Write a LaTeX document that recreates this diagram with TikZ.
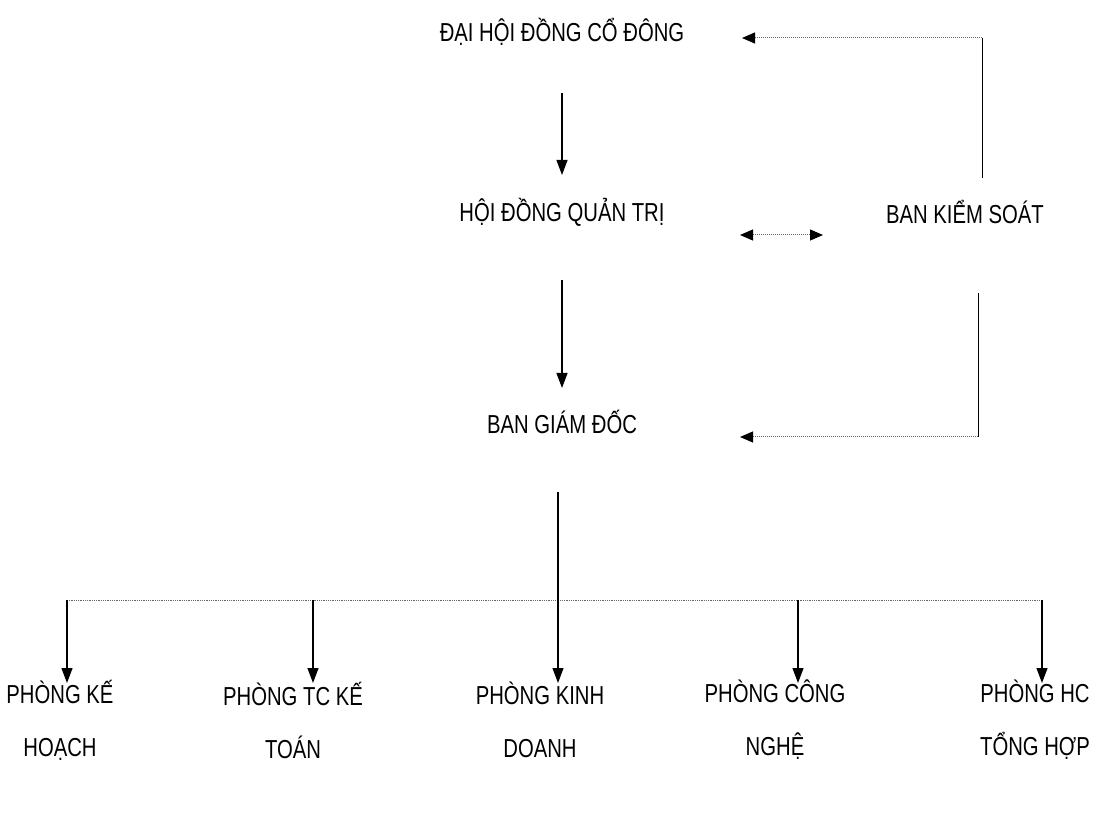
\documentclass[tikz,border=0pt]{standalone}
\usepackage{fontspec}
\setmainfont{Liberation Sans}[FakeStretch=0.78]
\usetikzlibrary{positioning, arrows.meta}

\begin{document}
\begin{tikzpicture}[
    x=1pt, y=-1pt,
    box/.style={
        align=center,
        inner sep=0pt,
        font=\fontsize{26}{53}\selectfont
    },
    arrow/.style={
        -{Triangle[width=11pt,length=15pt]},
        line width=1.2pt
    },
    link/.style={
        gray!80!black,
        densely dotted,
        line width=1pt
    },
    linkarrow/.style={
        link,
        -{Triangle[width=11pt,length=13pt,color=black]}
    }
]
\useasboundingbox[fill=white] (0,0) rectangle (1120,818);

\node[box] (dhd) at (562,32) {ĐẠI HỘI ĐỒNG CỔ ĐÔNG};
\node[box] (hdqt) at (562,212) {HỘI ĐỒNG QUẢN TRỊ};
\node[box] (bks) at (965,212) {BAN KIỂM SOÁT};
\node[box] (bgd) at (562,422) {BAN GIÁM ĐỐC};

\node[box] (khoach) at (60,720) {PHÒNG KẾ\\HOẠCH};
\node[box] (ketoan) at (293,720) {PHÒNG TC KẾ\\TOÁN};
\node[box] (kdoanh) at (540,720) {PHÒNG KINH\\DOANH};
\node[box] (cnghe) at (775,720) {PHÒNG CÔNG\\NGHỆ};
\node[box] (thop) at (1035,720) {PHÒNG HC\\TỔNG HỢP};

% main line
\coordinate (t1) at (67,600);
\coordinate (t2) at (313,600);
\coordinate (t3) at (558,600);
\coordinate (t4) at (798,600);
\coordinate (t5) at (1042,600);

\draw[arrow] ([yshift=-61pt]dhd.center) -- ([yshift=37pt]hdqt.center);
\draw[arrow] ([yshift=-68pt]hdqt.center) -- ([yshift=34pt]bgd.center);
\draw[line width=1.2pt] ([yshift=-70pt]bgd.center -| t3) -- (t3);
\draw[link, line width=0.8pt] (t1) -- (t5);
\draw[arrow] (t1) -- ++(0,83);
\draw[arrow] (t2) -- ++(0,83);
\draw[arrow] (t3) -- ++(0,83);
\draw[arrow] (t4) -- ++(0,83);
\draw[arrow] (t5) -- ++(0,83);

% ban kiem soat
\coordinate (ktop) at (982,38);
\coordinate (kbot) at (978,437);
\draw[line width=1pt] ([yshift=34pt]bks.center -| ktop) -- (ktop);
\draw[linkarrow] (ktop) -- (ktop -| 742,0);
\draw[line width=1pt] ([yshift=-81pt]bks.center -| kbot) -- (kbot);
\draw[linkarrow] (kbot) -- (kbot -| 740,0);
\draw[link, {Triangle[width=11pt,length=13pt,color=black]}-{Triangle[width=11pt,length=13pt,color=black]}]
    ([yshift=-23pt]hdqt.east -| 740,0) -- ([yshift=-23pt]bks.west -| 823,0);

\end{tikzpicture}
\end{document}
